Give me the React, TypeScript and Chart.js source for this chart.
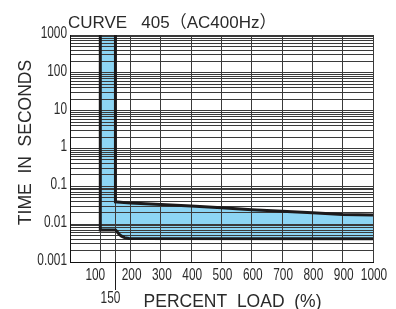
import React, { useEffect, useRef } from 'react';
import { Chart, registerables } from 'chart.js';

Chart.register(...registerables);

// ---- Text ----
const TITLE = 'CURVE   405（AC400Hz）';
const X_TITLE = 'PERCENT  LOAD  (%)';
const Y_TITLE = 'TIME  IN  SECONDS';

// ---- Axes ----
const xGridValues = [100, 150, 200, 300, 400, 500, 600, 700, 800, 900, 1000];
const xTickValues = [100, 200, 300, 400, 500, 600, 700, 800, 900, 1000];
const xTickLabels = ['100', '200', '300', '400', '500', '600', '700', '800', '900', '1000'];
const xSpecialTick = 150;
const xSpecialLabel = '150';
const yDecadeValues = [0.001, 0.01, 0.1, 1, 10, 100, 1000];
const yTickLabels = ['0.001', '0.01', '0.1', '1', '10', '100', '1000'];
const yMinorSteps = [1, 2, 3, 4, 5, 6, 7, 8, 9];

// ---- Curve data (percent load vs. time in seconds) ----
const upperLoad = [150, 150, 200, 300, 400, 500, 600, 700, 800, 900, 1000];
const upperTime = [1000, 0.039, 0.036, 0.033, 0.030, 0.027, 0.024, 0.022, 0.020, 0.018, 0.0175];
const lowerLoad = [100, 100, 150, 155, 162, 170, 180, 195, 1000];
const lowerTime = [1000, 0.007, 0.007, 0.0064, 0.0054, 0.0048, 0.0044, 0.0042, 0.0041];

const BAND_COLOR = '#8dd5f4';
const LINE_COLOR = '#1c1a1b';
const GRID_COLOR = '#3a3a3a';
const TEXT_COLOR = '#2a2a2a';
const TICK_FONT = '16px "Liberation Sans", Arial, sans-serif';
const TITLE_FONT = '17.5px "Liberation Sans", Arial, sans-serif';

const upperPoints = upperLoad.map((x, i) => ({ x, y: upperTime[i] }));
const lowerPoints = lowerLoad.map((x, i) => ({ x, y: lowerTime[i] }));
const bandPoints = [...lowerPoints, ...upperPoints.slice().reverse()];

function drawScaled(ctx: CanvasRenderingContext2D, text: string, x: number, y: number, sx: number) {
  ctx.save();
  ctx.translate(x, y);
  ctx.scale(sx, 1);
  ctx.fillText(text, 0, 0);
  ctx.restore();
}

const textPlugin = {
  id: 'curveText',
  afterDraw(chart: any) {
    const { ctx, chartArea } = chart;
    const xs = chart.scales.x;
    const ys = chart.scales.y;
    ctx.save();
    ctx.fillStyle = TEXT_COLOR;

    // y tick labels
    ctx.font = TICK_FONT;
    ctx.textAlign = 'right';
    ctx.textBaseline = 'middle';
    yDecadeValues.forEach((v, i) => {
      drawScaled(ctx, yTickLabels[i], chartArea.left - 3, ys.getPixelForValue(v) - 1.5, 0.74);
    });

    // x tick labels
    ctx.textAlign = 'center';
    xTickValues.forEach((v, i) => {
      const shift = v === 100 ? -5 : 1;
      drawScaled(ctx, xTickLabels[i], xs.getPixelForValue(v) + shift, chartArea.bottom + 14, 0.74);
    });

    // 150 extended tick + label
    const p150 = Math.round(xs.getPixelForValue(xSpecialTick)) + 0.5;
    ctx.strokeStyle = LINE_COLOR;
    ctx.lineWidth = 1;
    ctx.beginPath();
    ctx.moveTo(p150, chartArea.bottom);
    ctx.lineTo(p150, chartArea.bottom + 28);
    ctx.stroke();
    drawScaled(ctx, xSpecialLabel, p150 - 5, chartArea.bottom + 36.5, 0.74);

    // chart title
    ctx.font = '17px "Liberation Sans", "Noto Sans CJK JP", Arial, sans-serif';
    ctx.textAlign = 'left';
    ctx.textBaseline = 'alphabetic';
    ctx.fillText(TITLE, chartArea.left - 2, 28);

    // axis titles
    ctx.font = TITLE_FONT;
    ctx.textAlign = 'center';
    ctx.fillText(X_TITLE, 232.5, 306.5);
    ctx.save();
    ctx.translate(31, 142.5);
    ctx.rotate(-Math.PI / 2);
    ctx.fillText(Y_TITLE, 0, 0);
    ctx.restore();

    ctx.restore();
  },
};

export default function App() {
  const ref = useRef<HTMLCanvasElement>(null);
  useEffect(() => {
    const canvas = ref.current;
    if (!canvas) return;
    const chart = new Chart(canvas, {
      type: 'line',
      data: {
        datasets: [
          {
            label: 'band',
            data: bandPoints,
            fill: 'shape',
            backgroundColor: BAND_COLOR,
            borderWidth: 0,
            pointRadius: 0,
            tension: 0,
          },
          {
            label: 'upper',
            data: upperPoints,
            fill: false,
            borderColor: LINE_COLOR,
            borderWidth: 3,
            pointRadius: 0,
            tension: 0,
            borderJoinStyle: 'miter',
          },
          {
            label: 'lower',
            data: lowerPoints,
            fill: false,
            borderColor: LINE_COLOR,
            borderWidth: 3,
            pointRadius: 0,
            tension: 0,
            borderJoinStyle: 'miter',
          },
        ] as any,
      },
      options: {
        responsive: false,
        animation: false,
        events: [],
        layout: { padding: { left: 70, right: 23, top: 35, bottom: 47 } },
        plugins: {
          legend: { display: false },
          tooltip: { enabled: false },
          filler: { drawTime: 'beforeDraw' },
        } as any,
        scales: {
          x: {
            type: 'linear',
            min: 0,
            max: 1000,
            afterBuildTicks: (s: any) => {
              s.ticks = xGridValues.map((v) => ({ value: v }));
            },
            ticks: { display: false },
            grid: { color: GRID_COLOR, lineWidth: 1, drawTicks: false },
            border: { display: true, color: '#111', width: 1 },
          },
          y: {
            type: 'logarithmic',
            min: 0.001,
            max: 1000,
            afterBuildTicks: (s: any) => {
              const t: any[] = [];
              yDecadeValues.forEach((d, i) => {
                if (i === yDecadeValues.length - 1) {
                  t.push({ value: d });
                } else {
                  yMinorSteps.forEach((m) => t.push({ value: +(d * m).toPrecision(6) }));
                }
              });
              s.ticks = t;
            },
            ticks: { display: false },
            grid: { color: GRID_COLOR, lineWidth: 1, drawTicks: false },
            border: { display: true, color: '#111', width: 1 },
          },
        },
      } as any,
      plugins: [textPlugin],
    });
    return () => chart.destroy();
  }, []);
  return (
    <div style={{ position: 'fixed', left: 0, top: 0, width: 396, height: 309, background: '#fff' }}>
      <canvas ref={ref} width={396} height={309} style={{ display: 'block' }} />
    </div>
  );
}
